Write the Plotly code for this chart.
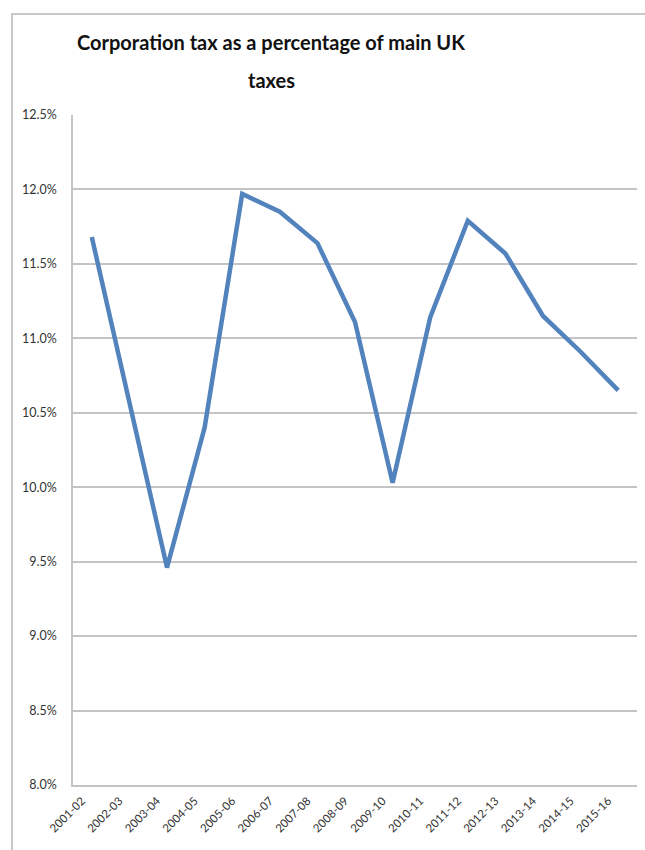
import plotly.graph_objects as go

years = ["2001-02", "2002-03", "2003-04", "2004-05", "2005-06", "2006-07", "2007-08",
         "2008-09", "2009-10", "2010-11", "2011-12", "2012-13", "2013-14", "2014-15", "2015-16"]
share_pct = [11.68, 10.58, 9.46, 10.40, 11.97, 11.85, 11.64, 11.11, 10.03, 11.14,
             11.79, 11.57, 11.15, 10.91, 10.65]
title_lines = ["Corporation tax as a percentage of main UK", "taxes"]

W, H = 645, 850
L, R, T, B = 73, 8, 115, 65
pw, ph = W - L - R, H - T - B

def px_x(x):
    return (x - L) / pw

def px_y(y):
    return 1 - (y - T) / ph

fig = go.Figure()
fig.add_trace(go.Scatter(
    x=years, y=share_pct, mode="lines",
    line=dict(color="#5283bd", width=4.5),
    hoverinfo="skip", showlegend=False,
))

grid = "#c4c4c4"
fig.update_layout(
    width=W, height=H,
    margin=dict(l=L, r=R, t=T, b=B),
    paper_bgcolor="white", plot_bgcolor="white",
    font=dict(family="Lato, 'Open Sans', sans-serif", color="#222"),
    xaxis=dict(
        type="category", range=[-0.5, len(years) - 0.5],
        tickangle=-45, tickfont=dict(size=11.5, color="#333"),
        ticklabelshift=-10, ticklabelstandoff=3,
        showgrid=False, showline=True, linecolor=grid, linewidth=1.5,
        ticks="", zeroline=False,
    ),
    yaxis=dict(
        range=[8, 12.5], dtick=0.5, tick0=8, tickformat=".1f", ticksuffix="%",
        tickfont=dict(size=12.5, color="#333"),
        showgrid=True, gridcolor=grid, gridwidth=1.5,
        showline=True, linecolor=grid, linewidth=1.5,
        ticks="outside", ticklen=12, tickcolor="rgba(0,0,0,0)", zeroline=False,
    ),
    shapes=[dict(
        type="rect", xref="paper", yref="paper",
        x0=px_x(12), x1=px_x(700), y0=px_y(900), y1=px_y(14),
        line=dict(color="#c8c8c8", width=2), fillcolor="rgba(0,0,0,0)", layer="below",
    )],
    annotations=[
        dict(text="<b>%s</b>" % title_lines[0], xref="paper", yref="paper",
             x=px_x(271), y=px_y(42), xanchor="center", yanchor="middle",
             showarrow=False, font=dict(size=20, color="#111")),
        dict(text="<b>%s</b>" % title_lines[1], xref="paper", yref="paper",
             x=px_x(271), y=px_y(80), xanchor="center", yanchor="middle",
             showarrow=False, font=dict(size=20, color="#111")),
    ],
)

fig.write_html("out.html")
